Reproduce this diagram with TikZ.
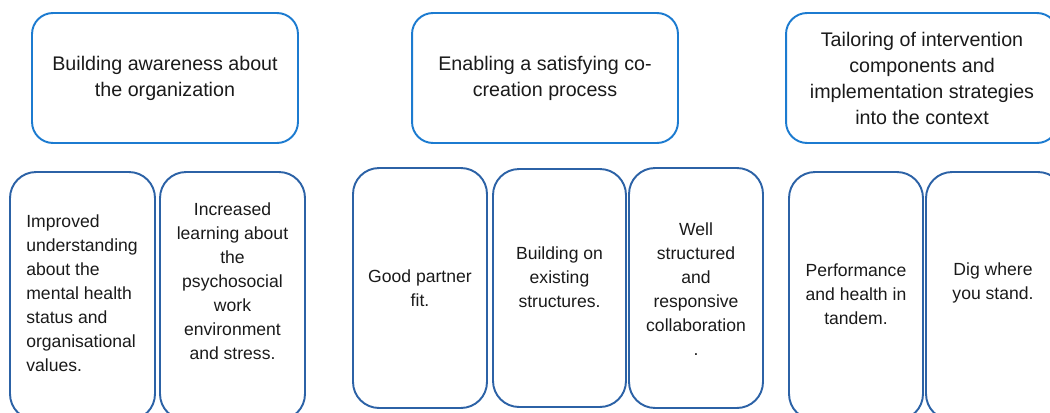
\documentclass[tikz,border=0pt]{standalone}
\usepackage{fontspec}
\setmainfont{Liberation Sans}
\definecolor{topblue}{HTML}{1C7BD0}
\definecolor{subblue}{HTML}{2C62A6}
\definecolor{inkgrey}{HTML}{1A1A1A}
\begin{document}
\begin{tikzpicture}[x=0.02cm, y=-0.02cm]
        \tikzstyle{theme}=[draw=topblue,line width=1.1pt,rounded corners=0.42cm,align=center,text=inkgrey,font=\fontsize{11.2}{14.8}\selectfont,minimum height=2.6cm]
        \tikzstyle{finding}=[draw=subblue,line width=1.1pt,rounded corners=0.52cm,minimum width=2.68cm,minimum height=4.8cm]
        \tikzstyle{words}=[align=center,text=inkgrey,font=\fontsize{10}{13.7}\selectfont,inner sep=0pt]

        \useasboundingbox (0,0) rectangle (1050,412);
        \clip (0,0) rectangle (1050,412);

        % themes
        \node[theme,minimum width=5.32cm] (T_1) at (165,78)  {Building awareness about\\the organization};
        \node[theme,minimum width=5.32cm] (T_2) at (545,78)  {Enabling a satisfying co-\\creation process};
        \node[theme,minimum width=5.44cm] (T_3) at (922,78)  {Tailoring of intervention\\components and\\implementation strategies\\into the context};

        % findings
        \node[finding,minimum width=2.9cm,minimum height=4.96cm] (B_1) at (82.5,296) {};
        \node[finding,minimum width=2.9cm,minimum height=4.96cm] (B_2) at (232.5,296) {};
        \node[finding] (B_3) at (420,288) {};
        \node[finding,minimum width=2.66cm,minimum height=4.76cm] (B_4) at (559.5,288) {};
        \node[finding] (B_5) at (696,288) {};
        \node[finding,minimum height=4.96cm] (B_6) at (856,296) {};
        \node[finding,minimum width=2.76cm,minimum height=4.96cm] (B_7) at (995,296) {};

        \node[words,align=left,anchor=west] (W_1) at (26,293) {Improved\\understanding\\about the\\mental health\\status and\\organisational\\values.};
        \node[words] (W_2) at (232.5,281) {Increased\\learning about\\the\\psychosocial\\work\\environment\\and stress.};
        \node[words] (W_3) at (420,288) {Good partner\\fit.};
        \node[words] (W_4) at (559.5,277) {Building on\\existing\\structures.};
        \node[words] (W_5) at (696,289) {Well\\structured\\and\\responsive\\collaboration\\.};
        \node[words] (W_6) at (856,294) {Performance\\and health in\\tandem.};
        \node[words] (W_7) at (993,283) {Dig where\\you stand.};
    \end{tikzpicture}
\end{document}
